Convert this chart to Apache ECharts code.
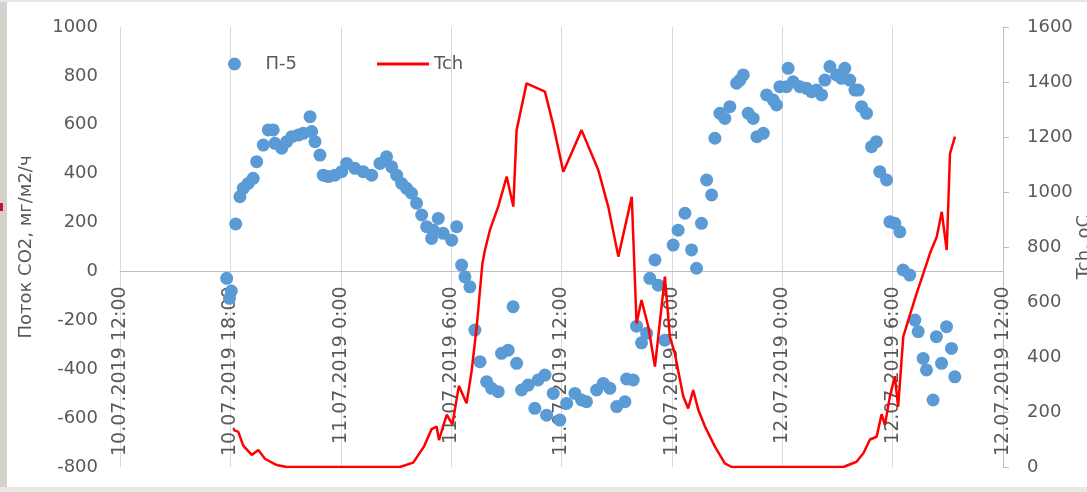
<!DOCTYPE html>
<html>
<head>
<meta charset="utf-8">
<script src="https://cdn.jsdelivr.net/npm/echarts@6/dist/echarts.min.js"></script>
<style>
  html, body { margin: 0; padding: 0; background: #ffffff; }
  #chart { width: 1087px; height: 492px; }
</style>
</head>
<body>
<div id="chart"></div>
<script>
// Time axis: hours counted from 10.07.2019 12:00, one label every 6 hours
const timeTickLabels = [
  '10.07.2019 12:00', '10.07.2019 18:00', '11.07.2019 0:00', '11.07.2019 6:00',
  '11.07.2019 12:00', '11.07.2019 18:00', '12.07.2019 0:00', '12.07.2019 6:00',
  '12.07.2019 12:00'
];

// П-5: CO2 flux, mg/m2/h
const fluxHours = [
  5.80, 5.95, 6.05, 6.29, 6.52, 6.70, 6.97, 7.24, 7.43, 7.79, 8.06, 8.33, 8.42, 8.79,
  9.06, 9.33, 9.69, 9.96, 10.33, 10.42, 10.60, 10.87, 11.05, 11.32, 11.68, 12.05, 12.32,
  12.77, 13.22, 13.68, 14.13, 14.49, 14.77, 15.04, 15.31, 15.58, 15.85, 16.12, 16.40,
  16.67, 16.94, 17.03, 17.30, 17.57, 18.03, 18.30, 18.57, 18.75, 19.02, 19.29, 19.57,
  19.93, 20.20, 20.56, 20.74, 21.10, 21.37, 21.56, 21.83, 22.19, 22.55, 22.73, 23.10,
  23.19, 23.55, 23.91, 24.28, 24.73, 25.09, 25.36, 25.91, 26.27, 26.63, 27.00, 27.45,
  27.54, 27.90, 28.08, 28.35, 28.63, 28.80, 29.08, 29.26, 29.62, 30.07, 30.34, 30.71,
  31.07, 31.34, 31.61, 31.89, 32.16, 32.34, 32.61, 32.88, 33.15, 33.52, 33.70, 33.88,
  34.15, 34.42, 34.62, 34.97, 35.15, 35.51, 35.69, 35.87, 36.23, 36.32, 36.59, 36.96,
  37.32, 37.59, 37.86, 38.14, 38.32, 38.59, 38.95, 39.22, 39.40, 39.67, 39.95, 40.13,
  40.31, 40.58, 40.85, 41.12, 41.30, 41.67, 41.85, 42.12, 42.39, 42.57, 42.93, 43.21,
  43.39, 43.66, 43.84, 44.20, 44.38, 44.66, 44.93, 45.20, 45.38
];
const fluxValues = [
  -28, -110, -80, 194, 306, 340, 360, 381, 449, 517, 579, 579, 524, 504,
  531, 551, 558, 565, 633, 572, 531, 476, 394, 388, 394, 408, 442,
  422, 408, 394, 442, 469, 428, 394, 360, 340, 320, 279, 231,
  183, 135, 169, 217, 156, 128, 183, 26, -22, -63, -240, -369,
  -451, -478, -492, -335, -322, -144, -376, -485, -465, -560, -444, -424,
  -588, -499, -608, -540, -499, -526, -533, -485, -458, -478, -553, -533,
  -440, -444, -224, -292, -253, -28, 47, -56, -281, 108, 169, 238,
  88, 13, 197, 374, 313, 545, 647, 626, 674, 770, 783, 804,
  647, 626, 551, 565, 722, 701, 681, 756, 756, 831, 776, 756,
  749, 735, 742, 722, 783, 838, 804, 790, 831, 783, 742, 742,
  674, 647, 510, 531, 408, 374, 203, 197, 162, 6, -15, -199,
  -246, -356, -403, -526, -267, -376, -226, -315, -431
];

// Tch: temperature, oC
const tempHours = [
  6.16, 6.43, 6.70, 7.16, 7.52, 7.88, 8.52, 9.06, 15.22, 15.94, 16.52, 16.94, 17.21,
  17.34, 17.76, 18.07, 18.42, 18.84, 19.11, 19.39, 19.70, 19.84, 20.11, 20.56, 21.02,
  21.38, 21.56, 22.10, 23.10, 23.55, 24.10, 25.09, 26.00, 26.54, 27.09, 27.82, 27.99,
  28.08, 28.35, 28.72, 29.08, 29.62, 29.89, 30.16, 30.62, 30.89, 31.16, 31.44, 31.80,
  32.34, 32.88, 33.25, 39.32, 40.04, 40.41, 40.77, 41.13, 41.40, 41.58, 41.85, 42.12,
  42.30, 42.58, 42.94, 43.31, 43.67, 44.03, 44.40, 44.67, 44.94, 45.12, 45.39
];
const tempValues = [
  135, 128, 78, 44, 62, 30, 7, 0, 0, 16, 74, 138, 147,
  98, 190, 155, 295, 232, 347, 510, 740, 789, 862, 947, 1056,
  947, 1225, 1395, 1365, 1244, 1074, 1225, 1080, 947, 765, 983, 680,
  522, 607, 510, 365, 692, 474, 413, 256, 213, 280, 207, 147,
  74, 13, 0, 0, 19, 50, 100, 110, 192, 153, 256, 330,
  219, 474, 553, 632, 704, 777, 837, 928, 789, 1140, 1201
];

const fluxMin = -800, fluxMax = 1000;

const fluxData = fluxHours.map((h, i) => [h, fluxValues[i]]);
const tempData = tempHours.map((h, i) => [h, tempValues[i]]);

const textColor = '#595959';
const fontFamily = 'DejaVu Sans';
const plainNumber = v => String(v);

// plot box
const gridTop = 27, gridBottom = 25, chartHeight = 492;
const plotHeight = chartHeight - gridTop - gridBottom;
// the time axis crosses the flux axis at 0
const zeroOffset = -plotHeight * (0 - fluxMin) / (fluxMax - fluxMin);

const chart = echarts.init(document.getElementById('chart'), null, { renderer: 'canvas' });

const legendText = { color: textColor, fontSize: 18, fontFamily: fontFamily };

chart.setOption({
  backgroundColor: '#ffffff',
  animation: false,
  textStyle: { fontFamily: fontFamily },
  grid: { left: 120, right: 84, top: gridTop, bottom: gridBottom, containLabel: false, outerBoundsMode: 'none' },
  legend: [
    {
      left: 223,
      top: 50,
      itemWidth: 52,
      itemHeight: 13,
      textStyle: legendText,
      data: [{ name: 'П-5', icon: 'circle' }]
    },
    {
      left: 372,
      top: 50,
      itemWidth: 52,
      itemHeight: 3,
      textStyle: legendText,
      data: [{ name: 'Tch', icon: 'rect' }]
    }
  ],
  xAxis: {
    type: 'value',
    min: 0,
    max: 48,
    interval: 6,
    position: 'bottom',
    offset: zeroOffset,
    axisLine: { show: true, onZero: false, lineStyle: { color: '#bfbfbf', width: 1 } },
    axisTick: { show: false },
    splitLine: { show: true, lineStyle: { color: '#d9d9d9', width: 1 } },
    axisLabel: {
      rotate: 90,
      margin: 15,
      color: textColor,
      fontSize: 19,
      fontFamily: fontFamily,
      showMinLabel: true,
      showMaxLabel: true,
      formatter: v => timeTickLabels[Math.round(v / 6)]
    }
  },
  yAxis: [
    {
      type: 'value',
      min: fluxMin,
      max: fluxMax,
      interval: 200,
      name: 'Поток CO2, мг/м2/ч',
      nameLocation: 'middle',
      nameGap: 85,
      nameMoveOverlap: false,
      nameTextStyle: { color: textColor, fontSize: 18, fontFamily: fontFamily },
      axisLine: { show: false },
      axisTick: { show: false },
      splitLine: { show: false },
      axisLabel: { color: textColor, fontSize: 18, margin: 22, fontFamily: fontFamily, formatter: plainNumber }
    },
    {
      type: 'value',
      min: 0,
      max: 1600,
      interval: 200,
      position: 'right',
      name: 'Tch, oC',
      nameLocation: 'middle',
      nameGap: 72,
      nameMoveOverlap: false,
      nameTextStyle: { color: textColor, fontSize: 18, fontFamily: fontFamily },
      axisLine: { show: true, onZero: false, lineStyle: { color: '#bfbfbf', width: 1 } },
      axisTick: { show: true, length: 6, lineStyle: { color: '#bfbfbf' } },
      splitLine: { show: false },
      axisLabel: { color: textColor, fontSize: 18, margin: 24, fontFamily: fontFamily, formatter: plainNumber }
    }
  ],
  series: [
    {
      name: 'П-5',
      type: 'scatter',
      yAxisIndex: 0,
      symbol: 'circle',
      symbolSize: 13,
      itemStyle: { color: '#5b9bd5', opacity: 1 },
      data: fluxData,
      z: 2
    },
    {
      name: 'Tch',
      type: 'line',
      yAxisIndex: 1,
      showSymbol: false,
      symbol: 'none',
      lineStyle: { color: '#ff0000', width: 2.5 },
      itemStyle: { color: '#ff0000' },
      data: tempData,
      z: 3
    }
  ],
  graphic: [
    { type: 'rect', left: 0, top: 0, shape: { width: 7, height: 492 }, style: { fill: '#d5d2ce' }, z: 100 },
    { type: 'rect', left: 0, top: 203, shape: { width: 3, height: 8 }, style: { fill: '#c0143c' }, z: 101 },
    { type: 'rect', left: 0, top: 0, shape: { width: 1087, height: 2 }, style: { fill: '#e6e6e6' }, z: 100 },
    { type: 'rect', left: 0, top: 487, shape: { width: 1087, height: 5 }, style: { fill: '#e8e8e8' }, z: 100 }
  ]
});
</script>
</body>
</html>
